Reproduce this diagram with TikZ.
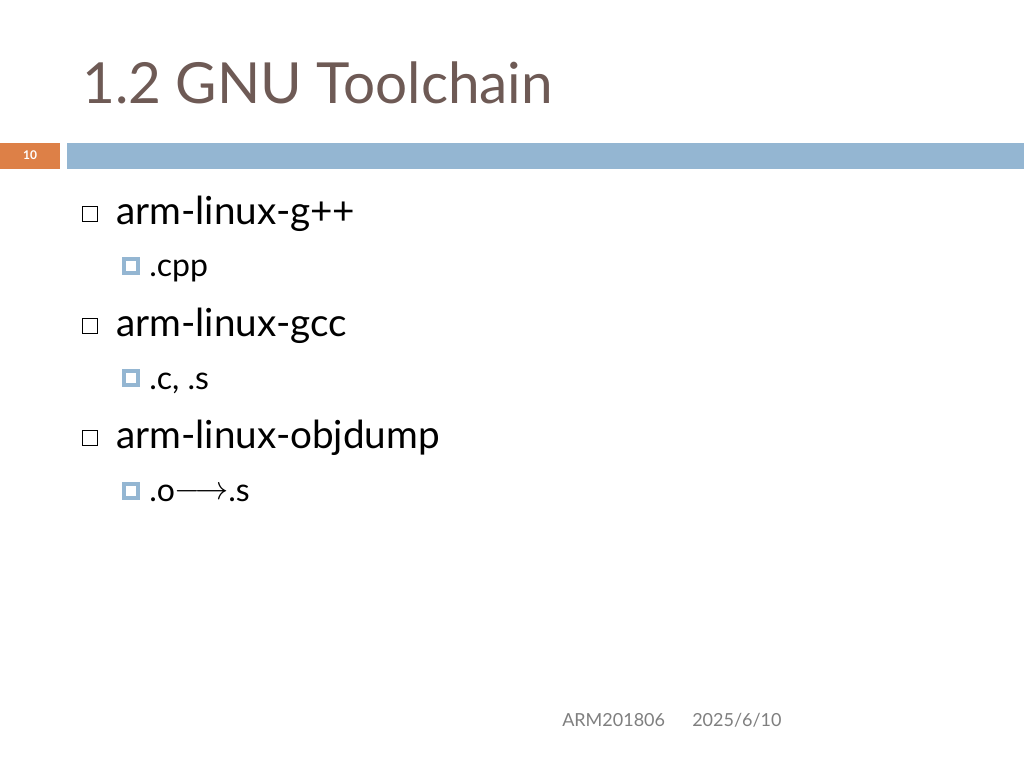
\documentclass[tikz,border=0pt]{standalone}
\usepackage{fontspec}
\setmainfont{Lato}
\newfontfamily\symf{DejaVu Sans}
\definecolor{titlec}{HTML}{6E5A55}
\definecolor{orangec}{HTML}{DD8047}
\definecolor{bluec}{HTML}{94B6D2}
\definecolor{footc}{HTML}{7F7F7F}
\begin{document}
\begin{tikzpicture}[x=0.75pt,y=-0.75pt,
  lvlone/.style={anchor=base west,inner sep=0,font=\fontsize{29}{34}\selectfont,text=black},
  lvltwo/.style={anchor=base west,inner sep=0,font=\fontsize{24}{28}\selectfont,text=black},
  hbox/.style={draw=black,line width=0.8pt,minimum size=11.5pt,inner sep=0},
  fbox/.style={draw=bluec,fill=white,line width=3pt,minimum size=10pt,inner sep=0},
  foot/.style={anchor=base west,inner sep=0,font=\fontsize{13.5}{16}\selectfont,text=footc}]
\useasboundingbox (0,0) rectangle (1024,768);
\fill[white] (0,0) rectangle (1024,768);
\node[anchor=base west,inner sep=0,font=\fontsize{42.5}{50}\selectfont,text=titlec] (title) at (82,103) {1.2 GNU Toolchain};
\fill[orangec] (0,143) rectangle (60,169);
\fill[bluec] (67,143) rectangle (1024,169);
\node[text=white,font=\bfseries\fontsize{9}{10}\selectfont] (num) at (30,155) {10};
\node[hbox] (b1) at (90,214) {};
\node[lvlone] (t1) at (116,224) {arm-linux-g++};
\node[fbox] (s1) at (131,266) {};
\node[lvltwo] (u1) at (149,276) {.cpp};
\node[hbox] (b2) at (90,326) {};
\node[lvlone] (t2) at (116,336) {arm-linux-gcc};
\node[fbox] (s2) at (131,378) {};
\node[lvltwo] (u2) at (149,389) {.c, .s};
\node[hbox] (b3) at (90,438) {};
\node[lvlone] (t3) at (116,448) {arm-linux-objdump};
\node[fbox] (s3) at (131,491) {};
\node[lvltwo] (u3) at (149,501) {.o\raisebox{1pt}{\fontsize{24}{28}\selectfont$\longrightarrow$}.s};
\node[foot] (f1) at (562,726) {ARM201806};
\node[foot] (f2) at (692,726) {2025/6/10};
\end{tikzpicture}
\end{document}
